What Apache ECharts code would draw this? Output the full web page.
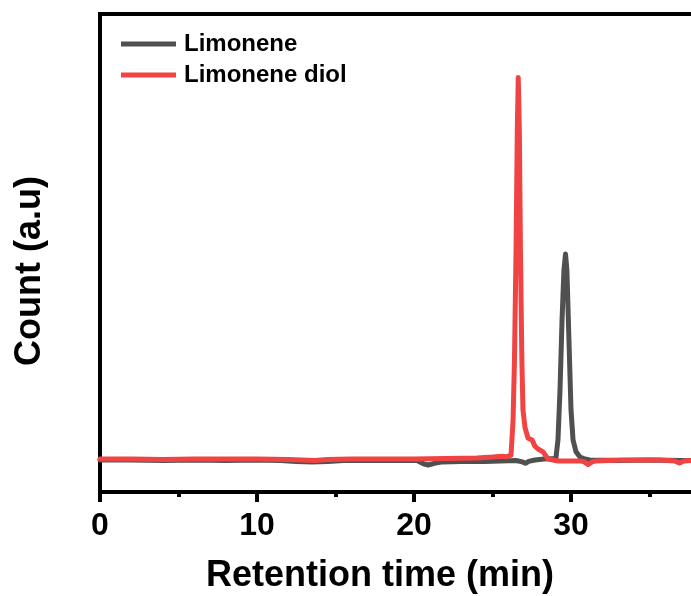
<!DOCTYPE html>
<html>
<head>
<meta charset="utf-8">
<script src="https://cdn.jsdelivr.net/npm/echarts@6/dist/echarts.min.js"></script>
<style>html,body{margin:0;padding:0;background:#fff}#c{width:691px;height:596px}</style>
</head>
<body>
<div id="c"></div>
<script>
const seriesNames = ['Limonene', 'Limonene diol'];
const xTickLabels = ['0', '10', '20', '30', '40'];

const limoneneTime = [0, 2, 4, 6, 8, 10, 11.5, 12.5, 13.5, 14.5, 15.5, 17, 19, 20.2, 20.6, 20.9, 21.3, 21.8, 23, 24.5, 25.5, 26.5, 26.9, 27.1, 27.3, 27.7, 28.3, 28.9, 29.04, 29.17, 29.3, 29.43, 29.55, 29.65, 29.74, 29.87, 30.0, 30.13, 30.32, 30.57, 30.89, 31.2, 33, 35, 37, 38.5];
const limoneneCount = [6.7, 6.7, 6.6, 6.7, 6.6, 6.7, 6.6, 6.4, 6.3, 6.4, 6.6, 6.6, 6.6, 6.6, 5.9, 5.65, 6.0, 6.3, 6.4, 6.4, 6.5, 6.6, 6.3, 6.0, 6.4, 6.7, 6.9, 7.0, 7.1, 10.9, 21.3, 36.0, 46.4, 49.8, 46.4, 31.8, 17.2, 10.9, 8.4, 7.3, 6.9, 6.7, 6.6, 6.7, 6.6, 6.6];

const diolTime = [0, 2, 4, 6, 8, 10, 12, 13.7, 14.5, 16, 18, 20, 22, 24, 25, 25.6, 25.9, 26.18, 26.31, 26.4, 26.5, 26.58, 26.64, 26.71, 26.78, 26.87, 26.94, 27.07, 27.26, 27.52, 27.7, 27.9, 28.22, 28.54, 29.17, 30.57, 30.85, 31.08, 31.35, 31.6, 33.1, 35.7, 36.6, 36.9, 37.2, 38.5];
const diolCount = [6.9, 6.9, 6.8, 6.9, 6.9, 6.9, 6.8, 6.6, 6.8, 6.9, 6.9, 6.9, 7.0, 7.1, 7.3, 7.5, 7.4, 7.7, 15.1, 27.6, 50.6, 75.7, 86.7, 75.7, 50.6, 27.6, 17.2, 13.5, 11.3, 10.9, 9.6, 9.0, 8.4, 6.9, 6.5, 6.5, 6.3, 5.75, 6.3, 6.5, 6.7, 6.7, 6.5, 6.07, 6.5, 6.7];

const zip = (xs, ys) => xs.map((x, i) => [x, ys[i]]);
const FONT = "'Liberation Sans', Arial, sans-serif";

const chart = echarts.init(document.getElementById('c'));
chart.setOption({
  animation: false,
  backgroundColor: '#fff',
  grid: { left: 100, top: 14, right: -37, bottom: 104, outerBoundsMode: 'none', containLabel: false,
          show: true, borderColor: '#000', borderWidth: 4, backgroundColor: 'transparent' },
  legend: {
    orient: 'vertical', left: 121, top: 32, padding: 0, itemWidth: 55, itemHeight: 5, itemGap: 7,
    icon: 'rect',
    data: seriesNames,
    textStyle: { fontFamily: FONT, fontWeight: 'bold', fontSize: 24, color: '#000', lineHeight: 24, padding: [0, 0, 0, 3] }
  },
  xAxis: {
    type: 'value', min: 0, max: 40, interval: 10,
    name: 'Retention time (min)', nameLocation: 'middle', nameGap: 66,
    nameTextStyle: { fontFamily: FONT, fontWeight: 'bold', fontSize: 36, color: '#000', padding: [0, 68, 0, 0] },
    axisLine: { show: true, lineStyle: { color: '#000', width: 4 } },
    axisTick: { show: true, length: 10, lineStyle: { color: '#000', width: 4 } },
    minorTick: { show: true, splitNumber: 2, length: 5, lineStyle: { color: '#000', width: 4 } },
    splitLine: { show: false },
    axisLabel: {
      margin: 18, fontFamily: FONT, fontWeight: 'bold', fontSize: 32, color: '#000',
      formatter: v => xTickLabels[Math.round(v / 10)] ?? ''
    }
  },
  yAxis: {
    type: 'value', min: 0, max: 100,
    name: 'Count (a.u)', nameLocation: 'middle', nameGap: 52, nameRotate: 90,
    nameTextStyle: { fontFamily: FONT, fontWeight: 'bold', fontSize: 36, color: '#000', padding: [0, 36, 0, 0] },
    axisLine: { show: true, lineStyle: { color: '#000', width: 4 } },
    axisTick: { show: false }, axisLabel: { show: false }, splitLine: { show: false }
  },
  series: [
    { name: seriesNames[0], type: 'line', data: zip(limoneneTime, limoneneCount), showSymbol: false, symbol: 'none',
      color: '#505050', lineStyle: { color: '#505050', width: 5, join: 'round', cap: 'round' } },
    { name: seriesNames[1], type: 'line', data: zip(diolTime, diolCount), showSymbol: false, symbol: 'none',
      color: '#f04444', lineStyle: { color: '#f04444', width: 5, join: 'round', cap: 'round' } }
  ]
});
</script>
</body>
</html>
